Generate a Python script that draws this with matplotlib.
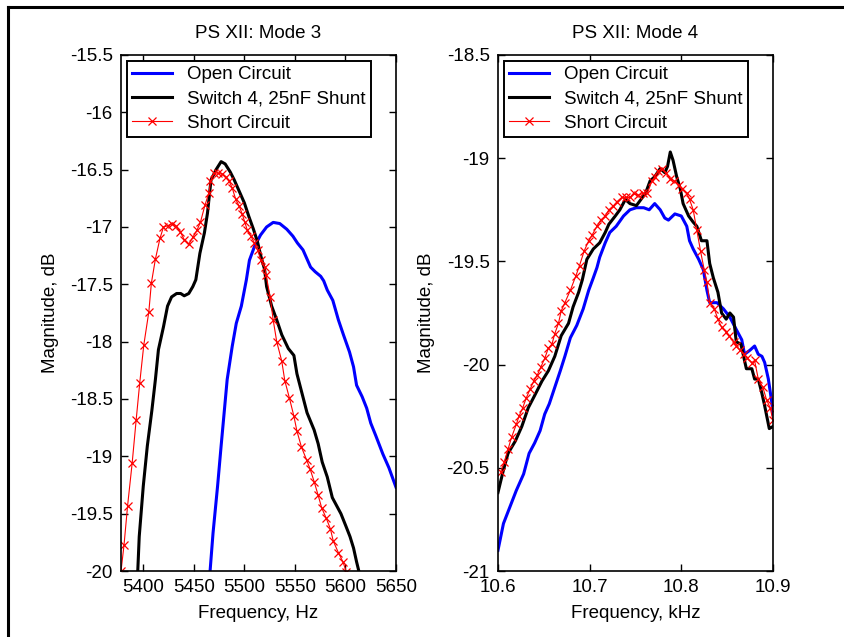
import matplotlib
matplotlib.use("Agg")
from matplotlib import pyplot as plt
from matplotlib.lines import Line2D

plt.rcParams['font.family'] = ['Liberation Sans', 'DejaVu Sans']
plt.rcParams['font.size'] = 13.5

# ---- Mode 3 (Hz, dB) ----
m3_open_f = [5466, 5469, 5473.5, 5477, 5480, 5483, 5488, 5492, 5497, 5502, 5505, 5510,
             5516, 5522, 5528.5, 5535, 5542, 5548, 5552.5, 5558, 5562, 5565.5, 5570,
             5575.5, 5578.5, 5582, 5587.5, 5593, 5598, 5604, 5608, 5611, 5616.5, 5621,
             5625, 5630, 5637, 5643, 5650]
m3_open_db = [-20.01, -19.67, -19.26, -18.91, -18.62, -18.33, -18.04, -17.84, -17.69,
              -17.46, -17.29, -17.17, -17.07, -17.0, -16.96, -16.97, -17.02, -17.08,
              -17.14, -17.20, -17.28, -17.35, -17.39, -17.43, -17.47, -17.55, -17.64,
              -17.81, -17.94, -18.09, -18.22, -18.38, -18.48, -18.58, -18.71, -18.82,
              -18.98, -19.10, -19.27]

m3_sw_f = [5394.5, 5396, 5400, 5404, 5408.5, 5412, 5415, 5420, 5424, 5428, 5433, 5437,
           5440.5, 5445, 5449, 5452, 5456, 5460.5, 5463.5, 5467, 5472, 5477, 5481, 5486,
           5490, 5494.5, 5500, 5504.5, 5509, 5513, 5516.5, 5520, 5522, 5527, 5532, 5537,
           5543.5, 5549, 5552, 5557, 5562, 5569, 5573, 5577, 5582, 5587, 5595.5, 5600.5,
           5604.5, 5608, 5611, 5613.5]
m3_sw_db = [-20.01, -19.70, -19.26, -18.91, -18.60, -18.33, -18.07, -17.87, -17.69,
            -17.61, -17.58, -17.58, -17.60, -17.58, -17.52, -17.46, -17.23, -17.05,
            -16.88, -16.59, -16.50, -16.43, -16.45, -16.52, -16.59, -16.68, -16.79,
            -16.91, -17.02, -17.13, -17.26, -17.37, -17.52, -17.69, -17.81, -17.94,
            -18.06, -18.12, -18.28, -18.45, -18.62, -18.77, -18.89, -19.05, -19.18,
            -19.36, -19.50, -19.61, -19.70, -19.80, -19.92, -20.01]

m3_short_f = [5378, 5381, 5384.5, 5389, 5393, 5396.5, 5400.5, 5405.5, 5408, 5412, 5416.5,
              5420, 5424, 5428, 5432, 5436.5, 5440.5, 5445, 5449, 5453, 5456.5, 5461,
              5465, 5466.5, 5470, 5474, 5478, 5481.5, 5485, 5488, 5491.5, 5495, 5498,
              5500.5, 5503, 5506.5, 5510, 5513, 5516.5, 5520, 5521.5, 5525.5, 5528.5,
              5532, 5537, 5540, 5544.5, 5549, 5552, 5556.5, 5561.5, 5565, 5569, 5573,
              5576.5, 5581, 5585, 5588, 5593, 5597.5, 5601]
m3_short_db = [-20.0, -19.77, -19.43, -19.06, -18.68, -18.36, -18.03, -17.74, -17.49,
               -17.28, -17.10, -17.0, -16.99, -16.97, -16.99, -17.04, -17.11, -17.15,
               -17.09, -17.03, -16.96, -16.81, -16.70, -16.60, -16.53, -16.53, -16.54,
               -16.56, -16.60, -16.66, -16.76, -16.82, -16.89, -16.96, -17.03, -17.08,
               -17.14, -17.20, -17.29, -17.35, -17.42, -17.61, -17.81, -18.0, -18.17,
               -18.34, -18.49, -18.65, -18.78, -18.92, -19.03, -19.11, -19.22, -19.34,
               -19.45, -19.54, -19.63, -19.74, -19.84, -19.92, -20.01]

# ---- Mode 4 (kHz, dB) ----
m4_open_f = [10.600, 10.606, 10.613, 10.620, 10.628, 10.634, 10.640, 10.646, 10.651,
             10.656, 10.662, 10.668, 10.673, 10.679, 10.686, 10.693, 10.699, 10.704,
             10.708, 10.711, 10.717, 10.722, 10.729, 10.737, 10.744, 10.751, 10.759,
             10.765, 10.771, 10.777, 10.782, 10.786, 10.793, 10.800, 10.806, 10.809,
             10.813, 10.819, 10.824, 10.828, 10.831, 10.839, 10.846, 10.853, 10.860,
             10.866, 10.869, 10.875, 10.880, 10.884, 10.888, 10.891, 10.895, 10.899,
             10.900]
m4_open_db = [-20.90, -20.77, -20.69, -20.61, -20.53, -20.43, -20.38, -20.32, -20.24,
              -20.19, -20.11, -20.03, -19.96, -19.87, -19.81, -19.73, -19.64, -19.58,
              -19.53, -19.48, -19.41, -19.36, -19.33, -19.28, -19.25, -19.24, -19.24,
              -19.25, -19.22, -19.25, -19.29, -19.30, -19.27, -19.28, -19.33, -19.40,
              -19.44, -19.49, -19.54, -19.64, -19.70, -19.70, -19.73, -19.77, -19.83,
              -19.88, -19.95, -19.93, -19.91, -19.95, -19.96, -19.99, -20.07, -20.19,
              -20.24]

m4_sw_f = [10.600, 10.606, 10.611, 10.619, 10.626, 10.633, 10.640, 10.648, 10.655, 10.662,
           10.669, 10.677, 10.682, 10.688, 10.692, 10.697, 10.704, 10.711, 10.717, 10.721,
           10.728, 10.733, 10.739, 10.744, 10.751, 10.756, 10.761, 10.766, 10.771, 10.777,
           10.782, 10.785, 10.788, 10.791, 10.795, 10.799, 10.802, 10.808, 10.813, 10.817,
           10.822, 10.828, 10.831, 10.835, 10.840, 10.844, 10.849, 10.853, 10.857, 10.860,
           10.865, 10.868, 10.871, 10.877, 10.880, 10.884, 10.888, 10.891, 10.896, 10.900]
m4_sw_db = [-20.62, -20.51, -20.43, -20.37, -20.30, -20.21, -20.15, -20.08, -20.03, -19.96,
            -19.86, -19.80, -19.72, -19.65, -19.59, -19.49, -19.44, -19.41, -19.36, -19.32,
            -19.28, -19.25, -19.20, -19.22, -19.23, -19.20, -19.17, -19.11, -19.09, -19.05,
            -19.07, -19.04, -18.97, -19.01, -19.09, -19.15, -19.22, -19.28, -19.31, -19.33,
            -19.40, -19.40, -19.51, -19.58, -19.65, -19.75, -19.78, -19.75, -19.77, -19.89,
            -19.90, -19.96, -20.02, -20.02, -20.07, -20.07, -20.14, -20.20, -20.31, -20.30]

m4_short_f = [10.603, 10.607, 10.611, 10.615, 10.620, 10.623, 10.627, 10.631, 10.635,
              10.639, 10.643, 10.647, 10.651, 10.655, 10.659, 10.662, 10.666, 10.669,
              10.673, 10.679, 10.685, 10.689, 10.694, 10.699, 10.703, 10.708, 10.712,
              10.717, 10.721, 10.726, 10.730, 10.735, 10.740, 10.744, 10.748, 10.753,
              10.758, 10.763, 10.768, 10.771, 10.775, 10.779, 10.783, 10.788, 10.792,
              10.797, 10.801, 10.806, 10.809, 10.813, 10.817, 10.821, 10.825, 10.828,
              10.831, 10.836, 10.840, 10.844, 10.849, 10.852, 10.857, 10.860, 10.864,
              10.868, 10.872, 10.877, 10.880, 10.884, 10.889, 10.893, 10.897, 10.900]
m4_short_db = [-20.52, -20.47, -20.41, -20.35, -20.29, -20.25, -20.21, -20.16, -20.12,
               -20.08, -20.05, -20.01, -19.97, -19.92, -19.90, -19.85, -19.80, -19.74,
               -19.70, -19.64, -19.57, -19.52, -19.45, -19.40, -19.37, -19.33, -19.30,
               -19.28, -19.25, -19.23, -19.21, -19.19, -19.19, -19.19, -19.17, -19.18,
               -19.17, -19.17, -19.11, -19.09, -19.06, -19.05, -19.07, -19.10, -19.11,
               -19.13, -19.15, -19.17, -19.20, -19.25, -19.35, -19.45, -19.54, -19.60,
               -19.70, -19.73, -19.78, -19.82, -19.84, -19.86, -19.89, -19.91, -19.93,
               -19.95, -19.97, -19.99, -19.98, -20.07, -20.11, -20.17, -20.21, -20.27]

labels = ["Open Circuit", "Switch 4, 25nF Shunt", "Short Circuit"]

fig = plt.figure(figsize=(8.44, 6.37), dpi=100)
ax1 = fig.add_axes([0.1434, 0.1036, 0.3258, 0.8101])
ax2 = fig.add_axes([0.5900, 0.1036, 0.3258, 0.8101])

# frame around the figure (top and left edges show)
fig.add_artist(Line2D([0.0095, 1.0], [0.989, 0.989], color='black', lw=2.2,
                      transform=fig.transFigure))
fig.add_artist(Line2D([0.0095, 0.0095], [0.0, 0.989], color='black', lw=2.2,
                      transform=fig.transFigure))


def draw(ax, of, odb, sf, sdb, rf, rdb):
    ax.plot(of, odb, color='#0000ff', lw=2.2, label=labels[0])
    ax.plot(sf, sdb, color='black', lw=2.2, label=labels[1])
    ax.plot(rf, rdb, color='red', lw=0.8, marker='x', ms=5.5, mew=0.9, label=labels[2])
    ax.tick_params(direction='in', top=True, right=True, length=5, width=1,
                   labelsize=13.5, pad=6)
    for s in ax.spines.values():
        s.set_linewidth(1.2)
    leg = ax.legend(loc='upper left', fancybox=False, edgecolor='black', framealpha=1,
                    fontsize=13.5, borderaxespad=0.3, handlelength=2.1,
                    labelspacing=0.38, borderpad=0.3, handletextpad=0.8)
    leg.get_frame().set_linewidth(1.4)
    ax.set_ylabel("Magnitude, dB", fontsize=13.5, labelpad=8)


draw(ax1, m3_open_f, m3_open_db, m3_sw_f, m3_sw_db, m3_short_f, m3_short_db)
ax1.set_xlim(5378, 5650)
ax1.set_ylim(-20, -15.5)
ax1.set_xticks([5400, 5450, 5500, 5550, 5600, 5650])
ax1.set_yticks([-20, -19.5, -19, -18.5, -18, -17.5, -17, -16.5, -16, -15.5])
ax1.set_yticklabels(['-20', '-19.5', '-19', '-18.5', '-18', '-17.5', '-17', '-16.5',
                     '-16', '-15.5'])
ax1.set_xlabel("Frequency, Hz", fontsize=13.5, labelpad=6)
ax1.set_title("PS XII: Mode 3", fontsize=13.5, pad=12)

draw(ax2, m4_open_f, m4_open_db, m4_sw_f, m4_sw_db, m4_short_f, m4_short_db)
ax2.set_xlim(10.6, 10.9)
ax2.set_ylim(-21, -18.5)
ax2.set_xticks([10.6, 10.7, 10.8, 10.9])
ax2.set_yticks([-21, -20.5, -20, -19.5, -19, -18.5])
ax2.set_yticklabels(['-21', '-20.5', '-20', '-19.5', '-19', '-18.5'])
ax2.set_xlabel("Frequency, kHz", fontsize=13.5, labelpad=6)
ax2.set_title("PS XII: Mode 4", fontsize=13.5, pad=12)

fig.savefig("out.png", dpi=100)
